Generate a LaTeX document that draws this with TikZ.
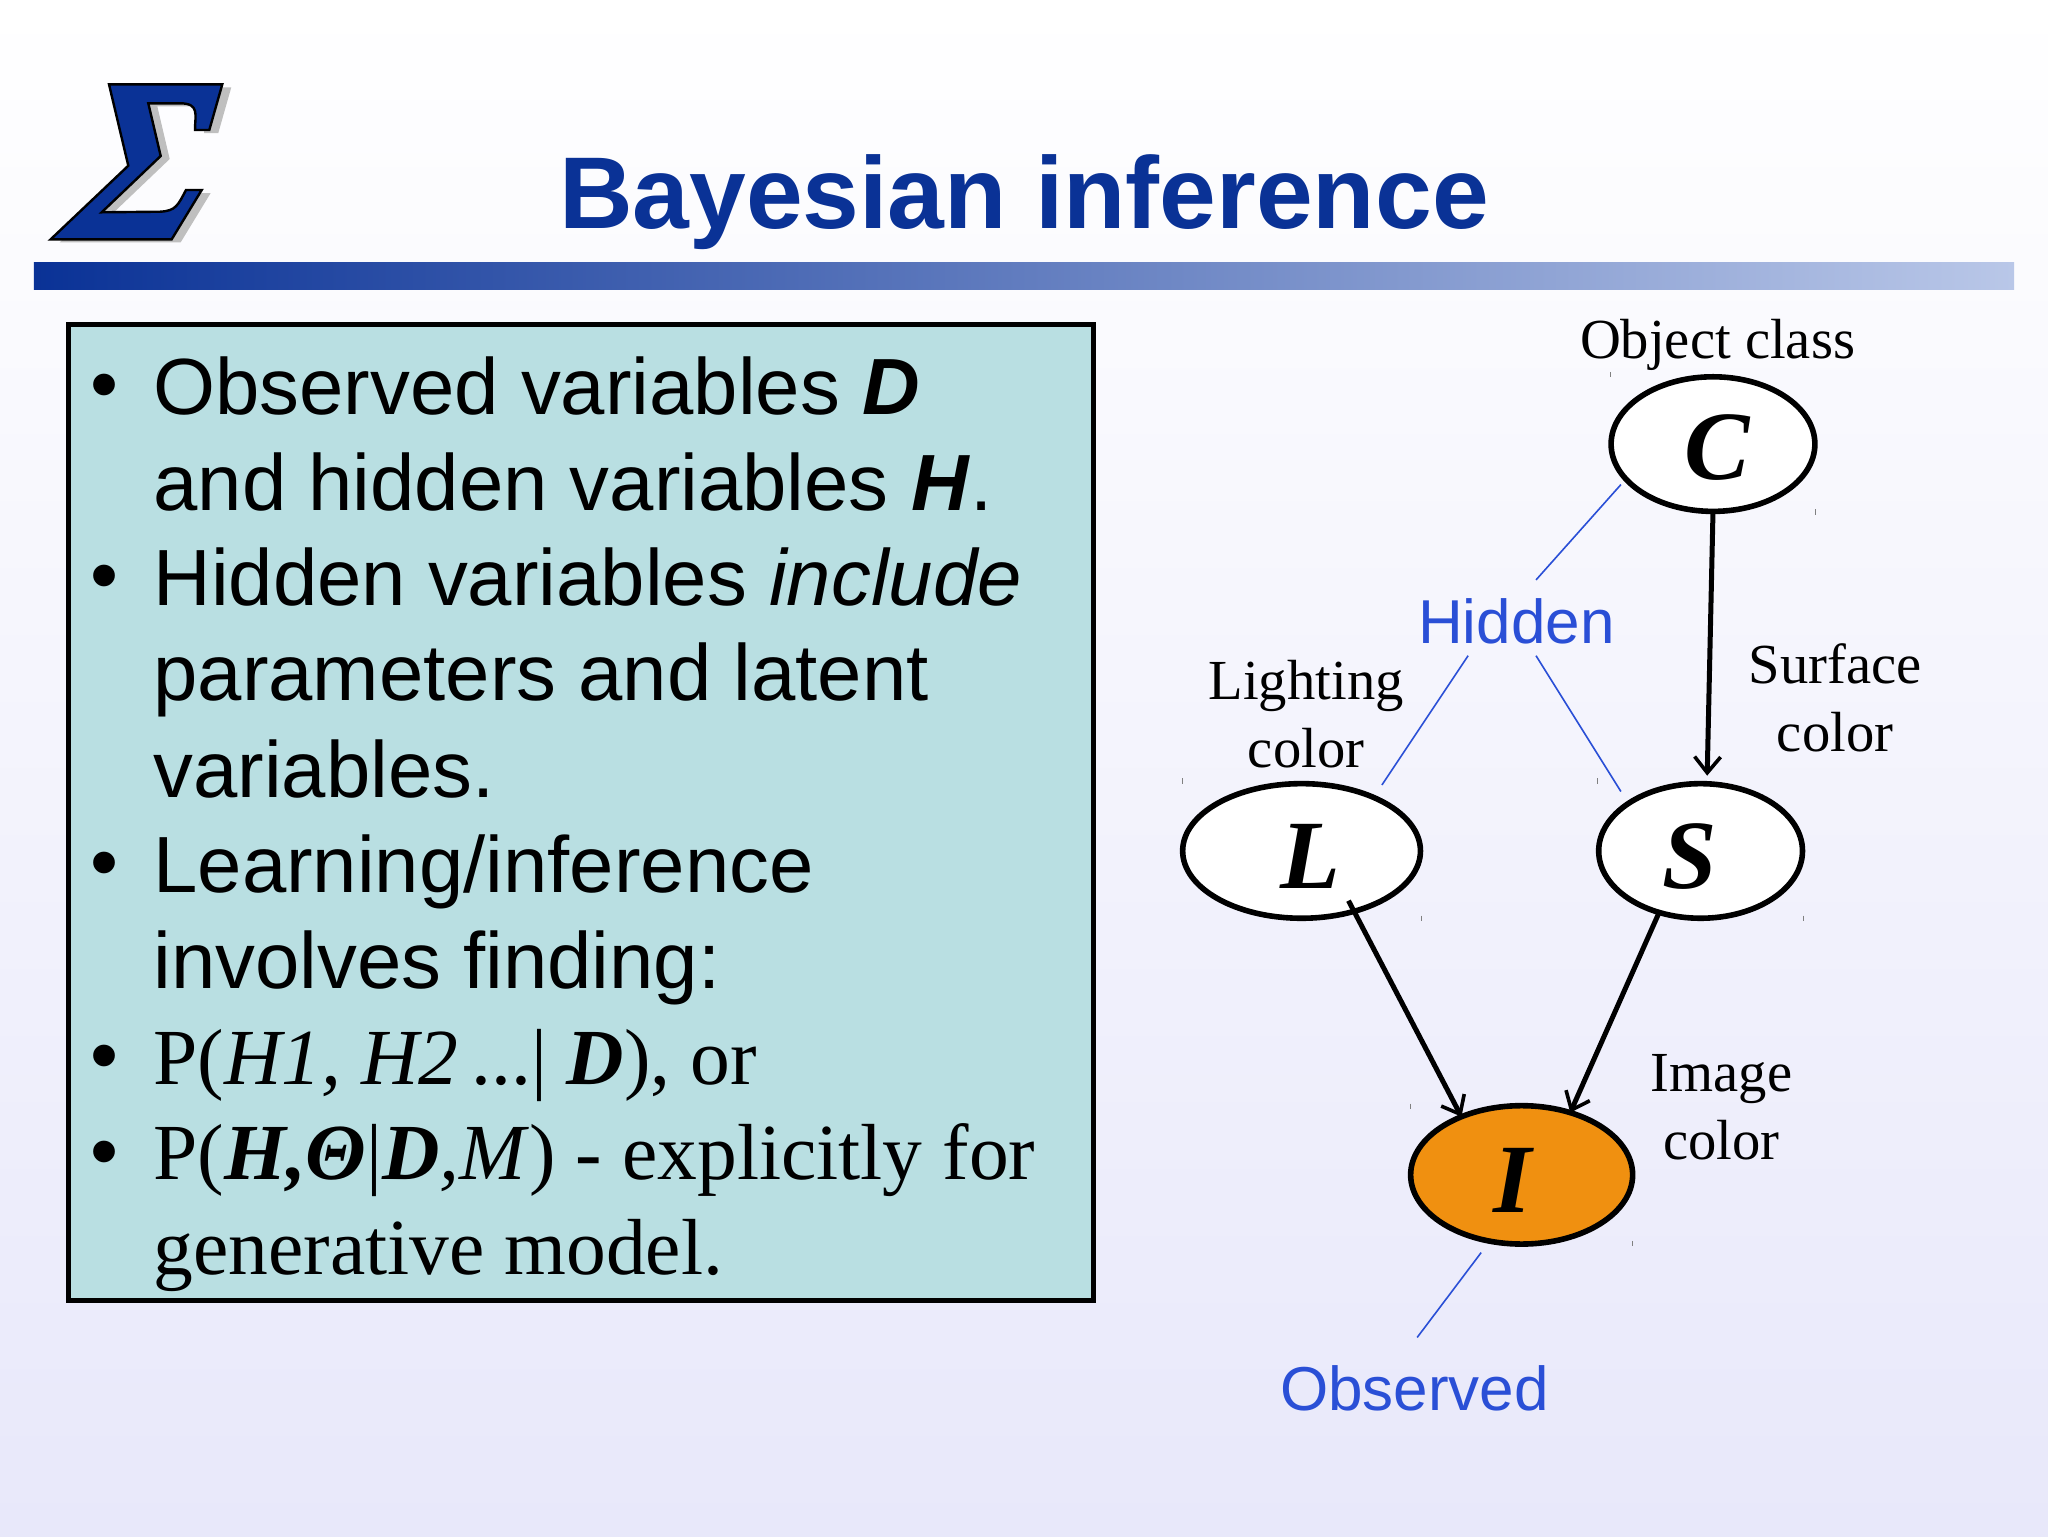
\documentclass[tikz,border=0pt]{standalone}
\usepackage{fontspec}
\setmainfont{Liberation Sans}
\newfontfamily\tms{Liberation Serif}
\usetikzlibrary{arrows.meta,shapes.geometric}
\definecolor{navy}{HTML}{0A3296}
\definecolor{barend}{HTML}{B9C7E8}
\definecolor{bgend}{HTML}{E8E8FA}
\definecolor{boxfill}{HTML}{B9DFE2}
\definecolor{hiddenblue}{HTML}{2A4FD6}
\definecolor{orangefill}{HTML}{F09010}
\tikzset{
  x=0.65306pt,y=-0.65306pt,
  body/.style={anchor=base west,inner sep=0pt,outer sep=0pt,font=\fontsize{39.85}{48}\selectfont},
  bodytms/.style={anchor=base west,inner sep=0pt,outer sep=0pt,font=\tms\fontsize{39.75}{48}\selectfont},
  bul/.style={anchor=base west,inner sep=0pt,outer sep=0pt,font=\fontsize{40}{48}\selectfont},
  varnode/.style={ellipse,draw=black,line width=2.8pt,inner sep=0pt,outer sep=0pt,fill=white},
  letternode/.style={inner sep=0pt,font=\tms\bfseries\itshape\fontsize{49}{49}\selectfont},
  captxt/.style={align=center,inner sep=0pt,font=\tms\fontsize{28.3}{34}\selectfont},
  blab/.style={inner sep=0pt,text=hiddenblue,font=\fontsize{31}{36}\selectfont},
  hintline/.style={hiddenblue,line width=0.8pt},
  edgearrow/.style={line width=2.5pt,-{Straight Barb[length=8pt,width=13pt,line width=1.8pt]}},
  tickmark/.style={draw=gray,line width=0.3pt},
}
\newcommand{\bi}[1]{\textbf{\textit{#1}}}
\begin{document}
\begin{tikzpicture}
\useasboundingbox (0,0) rectangle (1568,1176);
\shade[top color=white,bottom color=bgend,middle color=white!50!bgend] (0,0) rectangle (1568,1176);
% logo
\begin{scope}[x=0.5pt,y=-0.5pt]
\def\sigmashape{(109,84.3) -- (222.3,84.3) -- (209.3,130) -- (195,130) .. controls (195,115) and (200,103.3) .. (180,103.3) -- (148.3,103.3) -- (160.7,156) -- (101.7,212.3) -- (160,211.7) .. controls (176,211) and (178,205) .. (186,190) -- (201.7,190) -- (171.7,239.3) -- (50.7,239.3) -- (128.3,165.7) -- cycle}
\fill[gray!50,xshift=4.5pt,yshift=-1.5pt] \sigmashape;
\draw[fill=navy,draw=black,line width=1.2pt,line join=miter] \sigmashape;
\end{scope}
% title and bar
\node[anchor=base,inner sep=0pt,text=navy,font=\bfseries\fontsize{51}{56}\selectfont] (title) at (784,175) {Bayesian inference};
\shade[left color=navy,right color=barend] (26,201) rectangle (1542,222);
% text box
\node[draw=black,fill=boxfill,line width=2.4pt,inner sep=0pt,outer sep=0pt,minimum width=512.6pt,minimum height=488pt,anchor=north west] (box) at (52.5,248.5) {};
\node[bul] (b1) at (69,315) {•};
\node[body] (t1) at (117.5,317.5) {Observed variables \bi{D}};
\node[body] (t2) at (117.5,390.5) {and hidden variables \bi{H}.};
\node[bul] (b2) at (69,461) {•};
\node[body] (t3) at (117.5,463.5) {Hidden variables \textit{include}};
\node[body] (t4) at (117.5,536.5) {parameters and latent};
\node[body] (t5) at (117.5,610.5) {variables.};
\node[bul] (b3) at (69,681) {•};
\node[body] (t6) at (117.5,683.5) {Learning/inference};
\node[body] (t7) at (117.5,756.5) {involves finding:};
\node[bul] (b4) at (69,829) {•};
\node[bodytms] (t8) at (117.5,830) {P(\textit{H1, H2}\,...| \bi{D}), or};
\node[bul] (b5) at (69,902) {•};
\node[bodytms] (t9) at (117.5,903) {P(\bi{H,Θ}|\bi{D}\textit{,M}) - explicitly for};
\node[bodytms] (t10) at (117.5,976) {generative model.};
% variables
\node[varnode,minimum width=101.9pt,minimum height=67.3pt] (C) at (1311.5,340) {};
\node[varnode,minimum width=118.9pt,minimum height=67.3pt] (L) at (996.5,651.5) {};
\node[varnode,minimum width=101.9pt,minimum height=67.3pt] (S) at (1302,651.5) {};
\node[varnode,minimum width=111pt,minimum height=69.2pt,fill=orangefill] (I) at (1165,899.5) {};
\node[letternode] (Ct) at (1315,343) {C};
\node[letternode] (Lt) at (1003,656) {L};
\node[letternode] (St) at (1294,656) {S};
\node[letternode] (It) at (1158,904) {I};
% captions
\node[captxt] (capC) at (1315,264) {Object class};
\node[captxt] (capL) at (1000,547) {Lighting\\color};
\node[captxt] (capS) at (1405,534) {Surface\\color};
\node[captxt] (capI) at (1318,848) {Image\\color};
\node[blab] (hid) at (1161,476) {Hidden};
\node[blab] (obs) at (1083,1063) {Observed};
% edges
\draw[edgearrow] (C.270) -- ([xshift=3.3pt,yshift=4pt]S.north);
\draw[edgearrow,shorten <=-6pt] (L.-49) -- (I.136);
\draw[edgearrow] (S.-124.5) -- (I.52);
% pointer lines
\coordinate (c1) at (1241,371);
\coordinate (c2) at (1176,444);
\coordinate (c3) at (1124,502);
\coordinate (c4) at (1058,601);
\coordinate (c5) at (1176,502);
\coordinate (c6) at (1241,606);
\coordinate (c7) at (1134,959);
\coordinate (c8) at (1085,1024);
\draw[hintline] (c1) -- (c2);
\draw[hintline] (c3) -- (c4);
\draw[hintline] (c5) -- (c6);
\draw[hintline] (c7) -- (c8);
% tiny corner ticks
\foreach \tx/\ty in {1233/287,1390/392,905/598,1088/703,1223/598,1381/703,1080/847,1250/952}{
  \draw[tickmark] (\tx,\ty-2) -- (\tx,\ty+2);
}
\end{tikzpicture}
\end{document}
